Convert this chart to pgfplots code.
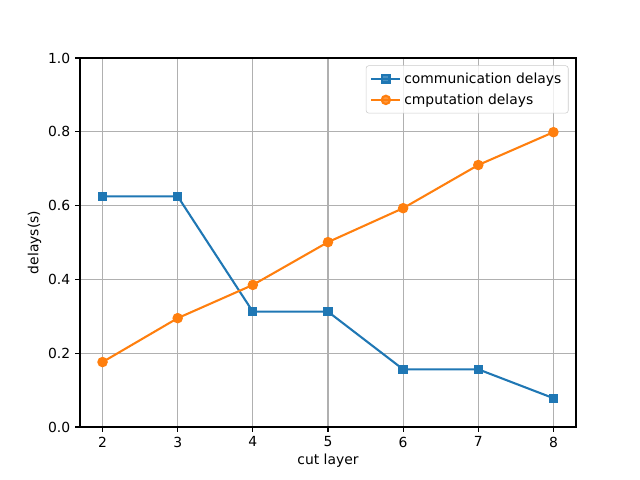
\documentclass[border=0pt]{standalone}
\usepackage{pgfplots}
\pgfplotsset{compat=1.18}
\usepackage{fontspec}
\setmainfont{DejaVu Sans}
\definecolor{c1}{HTML}{1F77B4}
\definecolor{c2}{HTML}{FF7F0E}
\begin{document}
\fontsize{10pt}{12pt}\selectfont
\begin{tikzpicture}
\path (-57.6pt,-38.16pt) rectangle (403.2pt,307.44pt);
\begin{axis}[
  at={(0,0)}, anchor=south west,
  scale only axis, width=357.12pt, height=265.68pt,
  xmin=1.7, xmax=8.3, ymin=0, ymax=1,
  xtick={2,3,4,5,6,7,8},
  ytick={0,0.2,0.4,0.6,0.8,1.0},
  xtick pos=left, ytick pos=left,
  yticklabel style={/pgf/number format/.cd,fixed,fixed zerofill,precision=1},
  /pgf/number format/assume math mode=true,
  tick label style={font=\fontsize{10pt}{12pt}\selectfont},
  label style={font=\fontsize{10pt}{12pt}\selectfont},
  xlabel={cut layer}, ylabel={delays(s)},
  xlabel style={yshift=2pt}, ylabel style={yshift=-2pt},
  grid=major, major grid style={color=black!31, line width=0.8pt},
  tick align=outside, major tick length=3.5pt,
  tick style={black, line width=0.8pt},
  axis line style={line width=0.8pt},
  legend style={font=\fontsize{10pt}{12pt}\selectfont, draw=black!20, fill=white, fill opacity=0.8, text opacity=1, rounded corners=2pt, at={(0.985,0.98)}, anchor=north east, row sep=2pt, inner xsep=3pt, inner ysep=3pt},
  legend cell align=left,
  legend image code/.code={
    \draw[mark repeat=2,mark phase=2] plot coordinates {(0cm,0cm) (0.37cm,0cm) (0.74cm,0cm)};
  },
]
\addplot[c1, line width=1.5pt, mark=square*, mark size=2.6pt, mark options={solid}] coordinates {
(2,0.625) (3,0.625) (4,0.3125) (5,0.3125) (6,0.15625) (7,0.15625) (8,0.078125)};
\addlegendentry{communication delays}
\addplot[c2, line width=1.5pt, mark=*, mark size=3pt, mark options={solid}] coordinates {
(2,0.176) (3,0.295) (4,0.385) (5,0.501) (6,0.593) (7,0.710) (8,0.799)};
\addlegendentry{cmputation delays}
\end{axis}
\end{tikzpicture}
\end{document}
